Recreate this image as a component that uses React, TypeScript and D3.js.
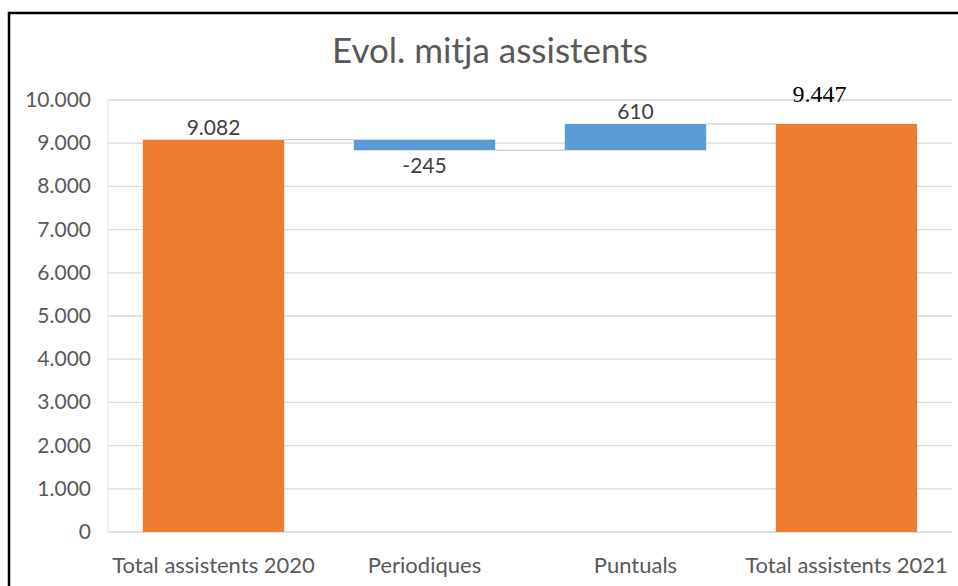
import * as d3 from 'd3';
import React from 'react';

const categories = ['Total assistents 2020', 'Periodiques', 'Puntuals', 'Total assistents 2021'];
const deltas = [9082, -245, 610, 9447];
const isTotal = [true, false, false, true];
const valueLabels = ['9.082', '-245', '610', '9.447'];
const yTicks = [0, 1000, 2000, 3000, 4000, 5000, 6000, 7000, 8000, 9000, 10000];

const W = 958;
const H = 586;
const margin = { left: 108, right: 6, top: 100, bottom: 54 };
const font = 'Lato, "Open Sans", sans-serif';

const fmt = (v: number) => d3.format(',')(v).replace(/,/g, '.');

const App = () => {
  const x = d3.scaleBand()
    .domain(categories)
    .range([margin.left, W - margin.right])
    .paddingInner(0.33)
    .paddingOuter(0.165);
  const y = d3.scaleLinear()
    .domain([0, 10000])
    .range([H - margin.bottom, margin.top]);

  // running totals for the waterfall
  let run = 0;
  const bars = categories.map((c, i) => {
    let lo: number, hi: number;
    if (isTotal[i]) {
      lo = 0; hi = deltas[i]; run = deltas[i];
    } else {
      const start = run;
      run = run + deltas[i];
      lo = Math.min(start, run); hi = Math.max(start, run);
    }
    return { c, lo, hi, end: run, neg: deltas[i] < 0, total: isTotal[i] };
  });

  const bw = x.bandwidth();

  return (
    <svg width={W} height={H} style={{ position: 'absolute', left: 0, top: 0, background: '#fff' }}>
      <rect x={9} y={13} width={980} height={620} fill="#fff" stroke="#000" strokeWidth={2.5} />
      <text x={490} y={63} textAnchor="middle" fontFamily={font} fontSize={35} fill="#595959">
        Evol. mitja assistents
      </text>

      {yTicks.map((t) => (
        <g key={t}>
          <line x1={margin.left} x2={W - margin.right} y1={y(t)} y2={y(t)} stroke="#d9d9d9" strokeWidth={1.3} />
          <text x={91} y={y(t) + 7} textAnchor="end" fontFamily={font} fontSize={21} fill="#595959">
            {t === 0 ? '0' : fmt(t)}
          </text>
        </g>
      ))}
      <line x1={margin.left} x2={margin.left} y1={y(10000)} y2={y(0)} stroke="#e3e3e3" strokeWidth={1} />

      {bars.slice(0, -1).map((b, i) => (
        <line key={'c' + i}
          x1={(x(b.c) as number) + bw} x2={x(categories[i + 1]) as number}
          y1={y(b.end)} y2={y(b.end)} stroke="#d0d0d0" strokeWidth={1.3} />
      ))}

      {bars.map((b) => (
        <rect key={b.c} x={x(b.c)} y={y(b.hi)} width={bw} height={y(b.lo) - y(b.hi)}
          fill={b.total ? '#ed7d31' : '#5b9bd5'} />
      ))}

      {bars.map((b, i) => {
        const cx = (x(b.c) as number) + bw / 2;
        if (i === 3) {
          return (
            <text key={'l' + i} x={cx - 27} y={y(b.hi) - 22} textAnchor="middle"
              fontFamily='"Liberation Serif", serif' fontSize={24} fill="#000">{valueLabels[i]}</text>
          );
        }
        const ly = b.neg ? y(b.lo) + 23 : y(b.hi) - 5;
        return (
          <text key={'l' + i} x={cx} y={ly} textAnchor="middle" fontFamily={font} fontSize={21} fill="#404040">
            {valueLabels[i]}
          </text>
        );
      })}

      {categories.map((c) => (
        <text key={'x' + c} x={(x(c) as number) + bw / 2} y={573} textAnchor="middle"
          fontFamily={font} fontSize={22} fill="#595959">{c}</text>
      ))}
    </svg>
  );
};

export default App;
